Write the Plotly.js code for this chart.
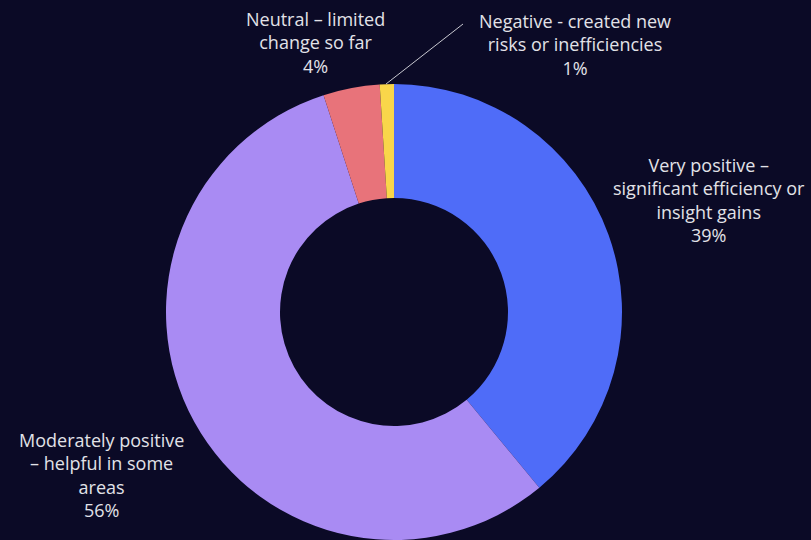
<!DOCTYPE html>
<html>
<head>
<meta charset="utf-8">
<script src="https://cdn.plot.ly/plotly-3.0.1.min.js"></script>
<style>
html,body{margin:0;padding:0;background:#0b0a26;}
#chart{width:811px;height:540px;}
</style>
</head>
<body>
<div id="chart"></div>
<script>
const categories = [
  "Very positive – significant efficiency or insight gains",
  "Moderately positive – helpful in some areas",
  "Neutral – limited change so far",
  "Negative - created new risks or inefficiencies"
];
const labelLines = [
  "Very positive –<br>significant efficiency or<br>insight gains",
  "Moderately positive<br>– helpful in some<br>areas",
  "Neutral – limited<br>change so far",
  "Negative - created new<br>risks or inefficiencies"
];
const values = [39, 56, 4, 1];
const colors = ["#4f6cf8", "#a98bf3", "#e8737a", "#f9d64a"];

const textColor = "#e2e2e8";
const font = {family: "'Open Sans', Lato, sans-serif", size: 18, color: textColor};

// label anchor positions (paper coords)
const labelPos = [
  {x: 709/811, y: 1 - 200/540},
  {x: 101/811, y: 1 - 475/540},
  {x: 315/811, y: 1 - 43/540},
  {x: 575/811, y: 1 - 44/540}
];

const annotations = categories.map((c, i) => ({
  xref: "paper", yref: "paper",
  x: labelPos[i].x, y: labelPos[i].y,
  xanchor: "center", yanchor: "middle",
  text: labelLines[i] + "<br>" + values[i] + "%",
  showarrow: false,
  align: "center",
  font: font
}));

const trace = {
  type: "pie",
  labels: categories,
  values: values,
  hole: 0.5,
  sort: false,
  direction: "clockwise",
  rotation: 0,
  textinfo: "none",
  hoverinfo: "label+percent",
  marker: {colors: colors, line: {width: 0}},
  domain: {x: [166/811, 622/811], y: [0, 456/540]},
  showlegend: false
};

const layout = {
  width: 811, height: 540,
  margin: {l: 0, r: 0, t: 0, b: 0},
  paper_bgcolor: "#0b0a26",
  plot_bgcolor: "#0b0a26",
  font: font,
  annotations: annotations,
  shapes: [{
    type: "line", xref: "paper", yref: "paper",
    x0: 463/811, y0: 1 - 24/540, x1: 386/811, y1: 1 - 84/540,
    line: {color: "#c8c8d0", width: 1}
  }]
};

Plotly.newPlot("chart", [trace], layout, {displayModeBar: false, staticPlot: true});
</script>
</body>
</html>
